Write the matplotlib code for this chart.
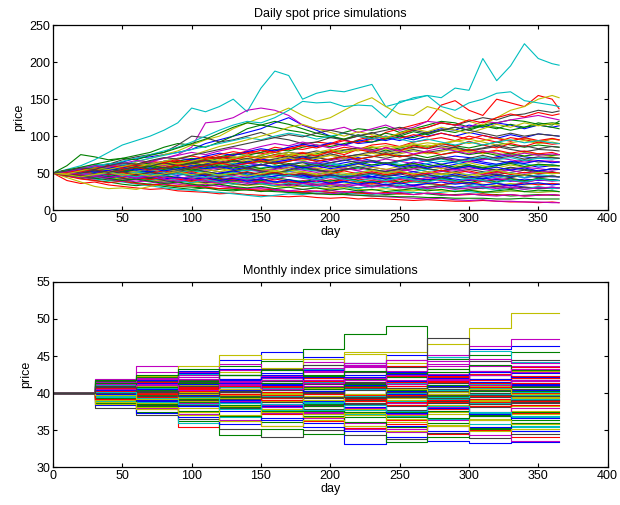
import matplotlib
matplotlib.use("Agg")
import matplotlib.pyplot as plt

# sampled days for the spot paths (every 10 days, plus the last day)
spot_days = list(range(0, 361, 10)) + [365]

spot_paths = [
    [50,54,52,58,62,65,70,72,75,78, 82,90,95,100,105,110,118,125,115,108, 100,95,90,92,98,94,100,105,110,108, 115,112,118,115,110,115,112, 114],
    [50,60,75,72,68,70,74,78,85,90, 88,85,92,100,110,115,112,108,105,100, 98,105,110,108,112,105,110,115,120,118, 112,115,118,122,120,116,118, 117],
    [50,52,49,54,58,55,60,63,58,62, 68,72,70,75,80,78,85,82,88,92, 90,96,100,95,105,110,115,120,142,148, 135,128,150,145,140,155,150, 137],
    [50,55,60,68,78,88,94,100,108,118, 138,133,140,150,133,165,188,182,150,158, 162,160,165,170,140,145,152,155,152,165, 162,205,175,195,225,205,198, 196],
    [50,52,55,53,58,62,60,66,70,75, 85,118,120,125,135,138,135,128,115,110, 108,112,105,110,115,108,112,120,118,115, 112,120,118,122,125,128,124, 122],
    [50,48,52,55,60,58,65,70,75,80, 88,95,100,110,118,125,130,138,128,120, 125,135,145,152,140,130,128,140,135,125, 120,115,125,135,140,150,155, 152],
    [50,53,56,60,62,68,72,75,78,88, 100,98,92,95,100,105,98,95,90,92, 98,95,100,105,98,102,108,112,118,115, 120,125,122,128,130,135,132, 134],
    [50,48,51,47,50,53,49,52,55,51, 54,58,55,60,57,62,58,55,60,64, 60,58,62,66,63,60,65,62,58,62, 66,63,60,64,62,58,60, 60],
    [50,52,56,54,58,60,57,62,65,63, 68,66,70,72,69,74,78,75,72,76, 80,78,82,85,80,84,88,85,90,87, 84,88,92,88,85,88,86, 85],
    [50,47,45,48,52,50,54,57,55,60, 58,62,65,68,64,70,72,75,78,74, 80,85,82,88,90,86,92,95,98,94, 100,96,92,98,95,92,96, 95],
    [50,53,57,62,60,66,70,75,80,85, 92,100,108,115,120,118,125,135,147,145, 146,140,142,141,125,147,150,155,140,135, 145,150,158,160,148,145,142, 140],
    [50,46,44,47,45,42,44,48,46,43, 45,48,50,47,44,46,49,52,50,47, 44,46,48,45,42,44,47,50,48,45, 43,46,48,45,47,44,46, 45],
    [50,52,50,54,57,55,58,62,60,64, 66,63,68,72,70,74,78,75,72,70, 74,78,82,80,76,80,84,88,85,82, 78,80,76,74,78,76,74, 75],
    [50,54,57,55,60,63,60,57,62,65, 62,58,55,60,57,54,56,60,58,55, 52,55,58,54,50,53,56,52,49,52, 55,52,48,51,54,50,52, 50],
    [50,47,44,46,42,40,43,41,38,40, 42,39,37,40,38,35,37,39,36,34, 36,38,35,33,35,32,34,36,33,31, 33,30,32,34,31,29,31, 30],
    [50,46,43,40,38,35,33,35,32,30, 28,30,27,26,28,25,27,24,23,25, 24,22,24,23,21,22,24,22,20,21, 22,20,21,19,20,21,20, 20],
    [50,40,36,38,34,32,30,28,29,26, 25,24,22,23,21,20,19,18,19,17, 16,17,15,16,15,14,13,14,13,12, 12,13,12,11,11,10,11, 10],
    [50,48,45,42,40,38,35,33,30,28, 27,25,24,22,20,18,20,22,21,23, 22,24,22,21,23,25,24,22,24,26, 25,23,24,26,25,24,26, 25],
    [50,47,44,42,45,41,38,40,37,35, 33,35,32,30,28,29,27,25,24,22, 23,21,20,19,18,17,16,15,16,14, 13,14,12,12,11,11,10, 10],
    [50,44,38,32,29,30,28,32,35,33, 36,38,35,37,40,38,36,34,37,35, 33,35,38,36,34,36,38,35,33,36, 38,35,33,36,34,36,35, 35],
    [50,52,55,58,55,52,56,53,50,54, 57,55,52,50,48,51,49,46,48,45, 47,44,46,43,45,42,44,41,43,40, 42,39,41,43,40,42,41, 40],
    [50,53,51,49,52,55,53,56,54,58, 61,59,57,60,63,61,58,62,65,63, 60,64,67,65,62,66,69,67,70,73, 71,68,72,75,72,70,71, 70],
    [50,49,52,50,47,50,53,51,48,51, 54,52,49,52,55,53,50,53,56,54, 51,54,57,55,52,55,58,56,53,56, 59,57,54,57,55,53,56, 55],
    [50,52,55,53,57,60,58,62,66,64, 68,72,70,74,78,76,80,84,82,86, 90,88,95,100,96,104,108,112,118,115, 122,118,125,130,126,132,128, 130],
    [50,51,48,52,55,52,49,53,56,54, 51,55,58,56,53,57,60,58,55,59, 62,60,57,61,64,62,59,63,66,64, 61,58,62,65,62,60,61, 60],
    [50,48,50,47,45,48,46,43,45,42, 44,41,39,42,40,37,39,36,38,35, 37,34,36,33,35,32,34,31,33,30, 32,29,31,33,30,31,29, 30],
    [50,52,49,53,56,54,58,61,59,63, 66,64,68,71,69,73,70,74,77,75, 79,82,80,84,87,85,88,91,89,93, 96,92,88,91,94,90,92, 90],
    [50,51,54,52,56,59,57,60,63,61, 64,67,65,62,66,69,67,70,73,71, 68,72,75,73,70,74,71,68,72,69, 66,70,67,64,68,65,66, 65],
    [50,49,47,50,48,45,47,44,46,43, 45,47,44,42,45,43,46,48,45,43, 46,44,47,45,42,44,47,45,43,46, 44,42,45,47,44,46,45, 45],
    [50,47,45,43,41,39,37,35,34,32, 31,30,29,28,27,26,25,24,23,22, 21,21,20,19,19,18,18,17,17,16, 16,16,15,15,16,15,15, 15],
    [50,48,46,49,47,44,46,43,41,44, 42,40,43,41,38,41,39,37,40,38, 41,39,42,40,38,41,39,42,40,38, 41,39,42,40,38,41,40, 40],
    [50,52,49,47,50,48,45,47,44,42, 45,43,41,44,42,40,38,41,39,37, 40,38,36,39,37,35,38,36,34,37, 35,33,36,34,37,35,36, 35],
    [50,53,56,54,58,62,60,64,61,58, 62,66,63,60,64,61,58,62,59,56, 60,57,54,58,55,52,56,59,57,54, 57,55,52,55,58,56,54, 55],
    [50,48,45,47,44,42,44,41,39,41, 38,36,38,35,33,35,32,31,33,30, 29,31,28,27,29,27,26,28,26,25, 27,25,24,26,25,24,25, 25],
    [50,52,54,57,55,59,62,60,64,67, 65,69,72,70,74,71,75,78,76,80, 77,81,84,82,78,82,85,83,87,84, 80,83,86,82,79,82,81, 80],
    [50,52,50,53,51,48,50,52,49,47, 50,48,46,49,47,44,46,49,47,45, 48,46,43,45,48,46,43,41,44,42, 40,43,41,39,42,40,41, 40],
    [50,53,51,55,58,56,60,64,62,66, 70,68,72,76,74,78,82,80,85,88, 86,90,94,92,96,100,98,104,108,105, 110,114,112,108,112,115,112, 110],
    [50,46,42,40,37,39,36,34,35,32, 33,31,29,30,28,27,28,26,25,26, 24,25,23,22,24,22,21,23,22,20, 21,22,20,21,19,20,21, 20],
    [50,48,51,49,46,49,52,50,47,50, 53,51,48,51,54,52,49,52,55,53, 50,48,51,54,52,49,52,55,53,50, 48,51,53,50,48,51,50, 50],
    [50,51,53,56,54,57,55,58,61,59, 62,60,63,66,64,61,65,68,66,63, 67,70,68,65,69,66,63,67,70,68, 65,68,71,68,65,67,66, 65],
    [50,52,54,51,53,56,54,57,55,52, 55,58,56,53,56,54,51,54,52,49, 52,50,47,50,48,51,49,46,49,47, 45,48,46,44,47,45,46, 45],
    [50,48,46,44,46,43,41,43,40,38, 40,37,39,36,34,36,33,35,32,34, 31,33,30,32,34,31,29,31,33,30, 28,30,32,29,31,30,29, 30],
    [50,53,50,54,57,53,56,60,57,61, 58,62,66,62,65,69,65,68,72,68, 64,67,71,67,63,66,70,66,62,65, 69,65,62,66,63,67,64, 65],
    [50,47,51,48,45,49,46,43,47,44, 41,45,42,39,43,40,44,41,38,42, 39,43,40,37,41,38,42,39,43,40, 37,41,38,42,39,43,41, 40],
    [50,54,51,56,60,56,61,58,63,67, 63,68,72,68,73,69,75,71,77,73, 79,75,82,78,85,80,87,83,90,86, 93,88,84,90,86,92,89, 90],
    [50,46,49,45,42,46,43,40,44,40, 37,41,38,35,39,36,33,37,34,31, 35,32,29,33,30,34,31,28,32,29, 33,30,27,31,28,32,29, 30],
    [50,52,48,51,54,50,53,56,52,55, 58,54,57,60,56,52,55,58,54,51, 54,57,53,50,53,56,52,49,52,55, 51,48,51,54,50,53,51, 50],
    [50,51,55,52,56,59,55,58,62,58, 61,65,61,64,68,64,67,71,67,70, 74,70,73,77,73,76,80,76,79,83, 79,76,80,76,73,76,72, 70],
    [50,48,52,49,53,50,47,51,48,52, 56,52,49,53,57,53,50,54,58,54, 51,55,59,55,52,56,60,56,53,57, 61,57,54,58,55,52,56, 55],
    [50,53,49,52,48,51,55,51,48,52, 49,46,50,53,49,46,50,47,44,48, 51,47,44,48,45,49,52,48,45,49, 46,43,47,44,48,45,46, 45],
    [50,52,55,52,56,53,57,61,57,60, 64,60,63,67,63,66,62,66,70,66, 69,73,69,72,76,72,75,71,75,79, 75,78,74,77,73,76,74, 75],
    [50,47,50,46,43,47,44,41,45,42, 39,43,40,44,41,38,42,39,36,40, 37,41,38,35,39,36,40,37,34,38, 35,39,36,33,37,34,36, 35],
    [50,52,49,53,50,47,51,48,52,49, 46,50,47,51,48,45,49,46,50,47, 44,48,45,49,46,43,47,44,48,45, 42,46,43,47,44,48,46, 45],
    [50,47,44,46,42,39,41,38,35,37, 34,32,34,31,29,31,28,26,28,25, 27,24,26,23,22,24,21,23,21,20, 22,20,19,21,19,20,21, 20],
    [50,53,50,48,52,49,53,56,52,55, 59,55,52,56,60,56,53,57,61,57, 54,58,62,58,55,59,63,59,56,60, 64,60,57,61,58,62,59, 60],
    [50,52,56,53,57,61,57,60,64,60, 63,67,63,66,70,66,69,73,69,72, 76,72,75,79,75,78,82,78,81,85, 81,84,88,84,87,83,86, 85],
    [50,48,45,48,44,47,43,46,42,45, 41,44,40,43,39,42,38,41,37,40, 36,39,35,38,34,37,33,36,38,35, 37,34,36,33,35,37,34, 35],
    [50,53,49,52,56,52,55,59,55,58, 54,57,61,57,60,56,59,63,59,62, 58,61,65,61,64,60,63,59,62,58, 61,57,60,63,59,62,61, 60],
    [50,46,49,52,48,51,47,50,53,49, 52,48,45,49,52,48,51,47,50,46, 49,53,49,52,48,51,47,50,54,50, 53,49,52,48,51,49,51, 50],
    [50,51,54,51,55,58,54,57,53,56, 60,56,59,63,59,62,58,61,65,61, 64,60,63,67,63,66,70,66,69,65, 68,72,68,71,67,70,69, 70],
    [50,52,49,46,50,47,44,48,45,42, 46,43,47,44,41,45,42,46,43,40, 44,41,45,42,39,43,40,44,41,38, 42,39,43,40,37,41,39, 40],
    [50,53,57,54,58,62,58,62,66,62, 66,70,66,70,74,70,74,78,74,78, 82,78,82,86,82,86,90,86,90,94, 90,94,98,94,97,93,96, 95],
    [50,47,50,53,49,52,48,51,47,50, 46,49,45,48,51,47,50,46,49,45, 48,44,47,50,46,49,45,48,44,47, 43,46,49,45,48,44,46, 45],
    [50,52,55,51,54,58,54,57,53,56, 60,56,59,55,58,62,58,61,57,60, 56,59,63,59,62,58,61,57,60,56, 59,55,58,54,57,53,56, 55],
    [50,48,45,47,43,40,42,39,36,38, 35,33,35,32,30,32,29,31,28,30, 27,29,26,28,25,27,29,26,28,25, 27,24,26,28,25,27,26, 25],
    [50,49,52,55,51,54,58,54,57,61, 57,60,64,60,63,67,63,66,70,66, 69,73,69,72,76,72,75,79,75,78, 82,78,81,77,80,76,78, 75],
    [50,53,50,47,51,48,45,49,46,50, 47,44,48,45,42,46,43,47,44,41, 45,42,39,43,40,44,41,38,42,39, 43,40,37,41,38,42,40, 40],
    [50,48,51,47,44,47,43,46,42,39, 42,39,36,39,36,38,35,33,36,33, 35,32,34,31,33,30,32,29,31,28, 30,32,29,31,28,30,31, 30],
    [50,48,45,48,51,47,50,46,49,52, 48,51,47,50,46,49,53,49,52,48, 51,47,50,54,50,53,49,52,48,51, 47,50,54,50,47,51,49, 50],
    [50,53,50,54,51,55,59,55,58,54, 58,62,58,61,57,61,65,61,64,60, 64,68,64,67,63,67,71,67,70,66, 70,74,70,73,69,72,71, 70],
    [50,52,55,58,56,60,63,61,66,70, 68,73,77,74,79,83,80,85,89,86, 91,88,93,97,94,99,95,100,104,100, 105,101,97,102,98,103,101, 100],
    [50,54,58,62,66,70,68,74,78,84, 90,96,104,112,118,115,120,116,110,104, 100,96,102,98,104,100,106,102,108,112, 108,114,110,116,112,118,115, 120],
    [50,51,54,57,60,58,62,66,64,69, 73,70,75,79,76,81,78,83,87,84, 89,94,91,96,100,97,102,99,104,100, 96,101,97,93,98,94,97, 95],
    [50,53,56,59,63,61,66,70,74,78, 82,86,90,94,98,95,100,104,101,96, 100,104,100,96,100,96,92,96,92,88, 92,88,92,95,91,94,91, 90],
    [50,52,56,60,58,63,67,65,70,74, 78,75,80,84,81,86,90,87,92,88, 84,88,84,80,84,80,76,80,84,80, 76,80,77,73,77,74,76, 75],
    [50,49,53,57,55,59,63,61,66,70, 74,80,86,90,95,100,105,112,116,110, 105,100,106,102,98,104,110,106,112,108, 104,110,116,112,118,114,117, 115],
    [50,53,57,55,60,64,62,67,71,69, 74,78,82,86,90,94,98,102,99,104, 108,104,100,104,108,112,108,104,108,112, 108,104,100,104,100,103,101, 100],
]

# monthly index: starts at 40, then one level per month
index_start = 40.0
index_days = [0, 30, 60, 90, 120, 150, 180, 210, 240, 270, 300, 330, 365]

index_paths = [
    [41.0, 42.0, 43.0, 44.5, 45.5, 44.8, 44.0, 45.2, 44.8, 45.9, 46.3],
    [41.2, 42.1, 42.9, 43.7, 44.3, 46.0, 48.0, 49.0, 44.6, 45.1, 45.5],
    [39.0, 37.8, 35.4, 36.2, 35.5, 36.8, 35.3, 35.8, 34.5, 35.0, 34.0],
    [40.6, 41.9, 41.3, 42.5, 41.8, 43.2, 44.1, 43.6, 44.9, 45.7, 44.2],
    [41.5, 43.7, 42.8, 43.9, 43.1, 44.2, 43.5, 44.4, 45.1, 46.4, 47.3],
    [40.8, 42.0, 43.6, 45.1, 44.6, 43.8, 45.5, 45.5, 46.6, 48.8, 50.8],
    [38.0, 37.0, 36.5, 35.2, 34.1, 35.0, 34.3, 33.8, 34.6, 33.9, 34.5],
    [39.5, 38.9, 38.2, 37.6, 36.3, 35.4, 33.1, 34.0, 33.5, 33.2, 33.4],
    [39.1, 37.4, 36.2, 34.3, 35.1, 34.5, 35.6, 33.4, 34.1, 35.2, 34.8],
    [40.3, 41.1, 40.2, 41.5, 42.3, 41.6, 42.8, 43.7, 42.1, 42.6, 43.5],
    [39.8, 38.6, 35.9, 36.8, 37.5, 38.9, 37.2, 38.4, 36.5, 35.8, 35.4],
    [40.1, 39.4, 40.3, 39.1, 38.4, 37.5, 36.0, 35.1, 36.3, 36.9, 35.9],
    [41.7, 42.3, 41.5, 42.9, 43.4, 44.6, 45.3, 44.1, 43.2, 42.5, 43.0],
    [40.7, 41.6, 42.4, 41.0, 43.2, 43.8, 42.9, 43.5, 47.4, 44.3, 44.5],
    [39.3, 40.2, 39.5, 38.8, 39.7, 40.5, 39.2, 40.9, 41.8, 40.6, 41.2],
    [40.9, 40.1, 41.3, 42.5, 41.7, 40.8, 41.9, 42.7, 43.2, 42.4, 43.1],
    [39.7, 38.5, 37.4, 38.2, 37.1, 36.2, 37.5, 36.4, 37.8, 38.5, 37.3],
    [41.4, 41.9, 42.6, 41.8, 40.7, 41.5, 42.2, 41.3, 40.5, 41.7, 40.9],
    [40.4, 40.9, 39.8, 40.6, 41.4, 40.3, 39.5, 38.6, 39.8, 40.7, 41.6],
    [39.6, 40.4, 41.1, 40.2, 39.1, 38.2, 37.0, 36.1, 37.2, 36.5, 37.6],
    [40.0, 39.2, 38.4, 39.6, 40.4, 39.5, 40.7, 41.5, 40.3, 39.5, 40.2],
    [39.9, 40.7, 41.6, 40.5, 41.2, 42.1, 41.4, 42.6, 41.9, 43.0, 42.7],
    [40.2, 39.7, 38.8, 38.1, 37.3, 38.5, 39.2, 38.4, 39.6, 40.3, 39.5],
    [39.4, 40.0, 40.8, 41.9, 40.9, 42.0, 41.2, 42.3, 41.5, 42.4, 41.8],
    [41.1, 40.5, 39.9, 40.8, 39.6, 38.7, 39.4, 40.2, 41.1, 40.3, 39.7],
    [38.7, 38.0, 37.2, 36.4, 37.3, 36.6, 35.2, 34.7, 35.6, 34.3, 33.5],
    [40.5, 41.3, 40.6, 39.7, 38.9, 39.8, 38.7, 39.5, 38.4, 39.1, 38.2],
    [39.2, 38.4, 39.3, 38.0, 38.8, 37.9, 38.6, 37.7, 38.9, 38.1, 38.7],
    [40.6, 39.9, 40.9, 41.8, 42.7, 41.7, 40.9, 39.8, 40.6, 41.5, 40.4],
    [38.6, 39.3, 38.5, 39.4, 38.3, 37.6, 36.8, 37.4, 36.6, 37.0, 36.4],
    [40.8, 41.5, 40.7, 39.9, 40.8, 41.7, 40.6, 41.4, 40.1, 39.2, 40.0],
    [39.5, 38.8, 39.6, 38.6, 37.7, 36.9, 37.8, 36.9, 35.7, 36.4, 35.6],
    [41.9, 42.8, 42.1, 41.4, 42.5, 43.4, 44.0, 42.8, 44.3, 43.6, 42.9],
    [39.0, 39.8, 38.9, 39.9, 40.9, 39.6, 40.5, 39.3, 40.2, 41.0, 39.4],
    [40.3, 40.8, 40.0, 40.9, 40.2, 41.2, 40.4, 39.6, 40.5, 39.7, 41.3],
    [40.1, 40.6, 41.2, 41.9, 41.0, 40.1, 40.8, 40.0, 40.9, 41.8, 42.3],
    [39.8, 40.4, 39.6, 40.3, 41.0, 40.1, 40.9, 40.2, 40.4, 39.9, 40.3],
    [40.5, 39.8, 40.5, 39.9, 39.3, 40.1, 41.4, 42.1, 42.6, 41.8, 42.3],
    [38.9, 39.6, 38.6, 39.1, 38.2, 38.9, 37.7, 37.1, 38.0, 37.3, 36.8],
    [41.3, 42.0, 41.0, 41.6, 40.9, 41.8, 42.5, 41.7, 42.6, 41.9, 40.6],
    [39.4, 38.7, 38.0, 37.0, 37.8, 37.1, 37.9, 37.0, 37.5, 38.2, 37.1],
    [40.4, 39.6, 39.0, 38.3, 37.5, 38.4, 39.1, 38.2, 39.0, 38.3, 39.1],
    [41.0, 41.8, 42.7, 43.3, 42.4, 43.1, 42.4, 41.6, 42.5, 42.9, 42.0],
    [39.2, 38.2, 37.6, 36.9, 36.1, 36.9, 36.1, 35.4, 36.0, 35.3, 36.0],
    [40.6, 40.0, 39.2, 39.9, 39.0, 38.3, 38.9, 39.7, 38.8, 39.6, 38.9],
    [39.7, 40.2, 41.0, 40.5, 41.4, 40.5, 39.8, 40.6, 39.9, 40.7, 40.1],
    [40.9, 41.4, 40.8, 41.5, 42.0, 42.8, 43.6, 43.0, 43.9, 43.0, 43.7],
    [39.1, 39.9, 39.3, 38.6, 39.5, 40.2, 39.7, 40.7, 39.8, 38.9, 39.3],
    [41.6, 40.9, 41.7, 42.5, 41.6, 42.3, 41.5, 40.7, 41.4, 40.5, 41.0],
    [38.4, 37.3, 36.8, 35.8, 36.6, 35.9, 34.8, 35.6, 34.9, 35.4, 34.9],
    [40.3, 41.0, 41.6, 40.9, 41.7, 42.4, 42.0, 41.2, 42.0, 41.3, 40.8],
    [39.9, 39.3, 39.8, 40.5, 39.7, 38.9, 39.7, 38.8, 38.1, 38.8, 38.4],
    [40.0, 40.7, 40.2, 41.1, 40.6, 39.8, 40.5, 41.3, 40.4, 41.2, 41.7],
    [39.6, 39.0, 38.6, 38.9, 38.1, 37.3, 38.0, 37.2, 38.1, 37.5, 38.0],
    [40.2, 40.9, 40.1, 39.3, 40.0, 40.7, 39.9, 39.0, 39.7, 40.5, 39.8],
    [39.5, 39.1, 38.4, 39.2, 38.5, 39.3, 38.5, 39.4, 38.6, 39.4, 38.8],
    [40.4, 41.3, 40.5, 41.4, 42.2, 41.3, 42.1, 42.9, 42.0, 42.8, 42.2],
    [39.3, 38.5, 39.2, 38.4, 37.6, 38.3, 37.5, 36.8, 37.6, 36.9, 37.5],
    [40.7, 40.1, 40.8, 40.1, 40.9, 41.6, 40.8, 41.5, 42.3, 41.4, 42.0],
    [39.6, 40.3, 39.5, 40.2, 39.4, 40.1, 39.3, 40.0, 39.2, 39.9, 39.1],
    [41.2, 41.9, 42.5, 43.1, 42.3, 43.0, 43.8, 44.5, 43.7, 44.6, 44.0],
    [38.8, 38.1, 37.5, 38.2, 37.4, 36.7, 37.3, 36.5, 35.7, 36.3, 35.8],
    [40.0, 40.8, 41.5, 40.6, 39.8, 40.6, 41.3, 40.5, 39.7, 40.4, 39.6],
    [39.8, 39.1, 38.3, 39.0, 38.2, 38.9, 38.1, 37.3, 38.0, 37.2, 36.6],
    [41.8, 42.4, 43.2, 42.4, 43.1, 42.3, 43.0, 42.2, 42.9, 43.8, 43.1],
    [40.3, 39.5, 40.3, 41.0, 40.2, 40.9, 41.7, 40.9, 41.6, 40.8, 41.4],
    [39.4, 40.1, 39.4, 38.7, 39.5, 38.8, 39.6, 38.9, 39.5, 38.6, 39.2],
    [40.6, 41.2, 41.9, 41.1, 41.8, 41.0, 41.8, 42.5, 41.7, 42.4, 43.2],
    [38.5, 37.8, 37.0, 36.2, 35.6, 36.3, 35.6, 34.9, 35.6, 34.8, 35.2],
    [40.9, 40.2, 40.9, 40.1, 39.4, 40.0, 39.3, 40.1, 40.8, 40.0, 40.6],
    [39.9, 40.5, 39.7, 40.4, 41.1, 40.3, 41.1, 40.3, 41.0, 41.9, 41.1],
    [41.4, 40.8, 41.4, 40.6, 41.3, 40.5, 41.2, 40.4, 41.1, 40.3, 39.8],
    [39.2, 39.8, 40.5, 39.8, 39.1, 39.9, 39.2, 38.4, 39.1, 38.3, 38.9],
    [40.1, 39.3, 38.5, 37.8, 38.5, 37.7, 38.4, 37.6, 38.3, 37.4, 36.9],
    [40.5, 41.1, 40.4, 41.2, 40.5, 41.3, 42.0, 41.2, 41.9, 41.1, 41.7],
    [39.7, 39.2, 39.9, 40.6, 39.9, 39.1, 39.8, 40.6, 39.8, 40.5, 39.9],
    [40.8, 40.3, 39.6, 40.3, 39.5, 40.2, 39.4, 40.1, 39.3, 38.5, 39.0],
]

# old-style MATLAB line colour order
line_colors = [(0, 0, 1), (0, 0.5, 0), (1, 0, 0), (0, 0.75, 0.75),
               (0.75, 0, 0.75), (0.75, 0.75, 0), (0.25, 0.25, 0.25)]

plt.rcParams['font.family'] = ['Liberation Sans', 'DejaVu Sans']
plt.rcParams['font.size'] = 9
plt.rcParams['axes.prop_cycle'] = plt.cycler(color=line_colors)

fig = plt.figure(figsize=(6.2, 5.05), dpi=100)
ax1 = fig.add_axes([0.0855, 0.584, 0.8945, 0.366])
ax2 = fig.add_axes([0.0855, 0.0752, 0.8945, 0.3664])

for path in spot_paths:
    ax1.plot(spot_days, path, lw=0.8)

for path in index_paths:
    levels = [index_start] + path + [path[-1]]
    ax2.plot(index_days, levels, drawstyle='steps-post', lw=0.8)

def style_axes(ax, ylim, yticks, title):
    ax.set_xlim(0, 400)
    ax.set_ylim(*ylim)
    ax.set_xticks(range(0, 401, 50))
    ax.set_yticks(yticks)
    ax.tick_params(direction='in', top=True, right=True, length=3, width=0.8, pad=2)
    for s in ax.spines.values():
        s.set_linewidth(0.9)
    ax.set_xlabel('day', labelpad=1)
    ax.set_ylabel('price', labelpad=3)
    ax.set_title(title, fontsize=9, pad=6)

style_axes(ax1, (0, 250), range(0, 251, 50), 'Daily spot price simulations')
style_axes(ax2, (30, 55), range(30, 56, 5), 'Monthly index price simulations')

fig.savefig('out.png', dpi=100)
